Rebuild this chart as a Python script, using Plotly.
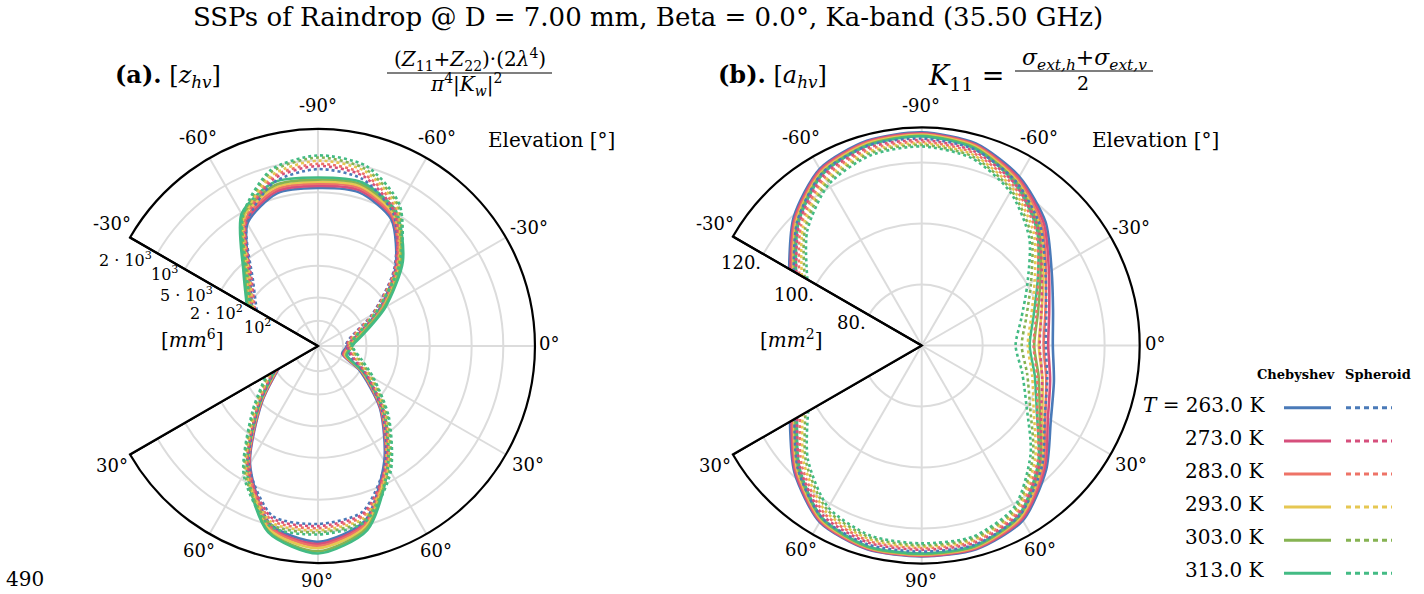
import plotly.graph_objects as go

W, H = 1424, 594
SERIF = "DejaVu Serif, Liberation Serif, serif"

TEMPS = ["263.0", "273.0", "283.0", "293.0", "303.0", "313.0"]
COLORS = ["#4a7ab8", "#d64f7c", "#ee7367", "#e6c752", "#86b352", "#43bb84"]

# ---- panel (a): z_hv in dB (10*log10 of mm^6) versus plotting angle ----
THETA_A = [-150, -135, -120, -105, -90, -75, -60, -45, -30, -15, -5, 5, 18,
           30, 45, 60, 75, 90, 105, 120, 135, 150]
ZHV_CHEB = [
    [19.6, 21.5, 25.8, 27.4, 27.4, 27.5, 26.3, 22.8, 19.0, 16.2, 15.3, 15.0, 14.8, 16.9, 20.7, 25.0, 29.6, 31.0, 29.9, 25.3, 19.9, 16.7],
    [19.7, 21.7, 26.0, 27.6, 27.6, 27.7, 26.5, 23.0, 19.2, 16.3, 15.4, 15.1, 14.9, 17.1, 20.8, 25.2, 29.8, 31.2, 30.1, 25.4, 20.0, 16.8],
    [19.8, 21.9, 26.2, 27.8, 27.8, 27.9, 26.6, 23.2, 19.3, 16.5, 15.6, 15.2, 15.0, 17.2, 20.9, 25.3, 29.9, 31.4, 30.2, 25.5, 20.1, 16.9],
    [20.0, 22.0, 26.5, 28.0, 28.0, 28.1, 26.8, 23.4, 19.5, 16.6, 15.7, 15.3, 15.1, 17.3, 21.1, 25.4, 30.1, 31.6, 30.4, 25.7, 20.2, 17.0],
    [20.1, 22.2, 26.7, 28.2, 28.2, 28.3, 27.0, 23.6, 19.6, 16.7, 15.8, 15.4, 15.2, 17.4, 21.2, 25.6, 30.3, 31.9, 30.6, 25.8, 20.3, 17.1],
    [20.2, 22.4, 26.9, 28.5, 28.4, 28.5, 27.2, 23.8, 19.8, 16.9, 15.9, 15.5, 15.3, 17.5, 21.3, 25.7, 30.5, 32.1, 30.7, 25.9, 20.4, 17.2],
]
ZHV_SPH = [
    [19.1, 21.1, 25.9, 28.5, 29.2, 28.8, 26.8, 22.6, 18.3, 15.6, 15.1, 15.2, 15.7, 17.5, 21.0, 25.2, 28.7, 29.3, 29.1, 25.5, 20.3, 17.1],
    [19.3, 21.3, 26.1, 28.8, 29.5, 29.1, 27.0, 22.7, 18.4, 15.7, 15.2, 15.3, 15.9, 17.7, 21.2, 25.4, 28.9, 29.5, 29.3, 25.7, 20.5, 17.3],
    [19.4, 21.5, 26.2, 29.0, 29.7, 29.3, 27.3, 22.9, 18.5, 15.8, 15.3, 15.5, 16.1, 17.9, 21.4, 25.6, 29.1, 29.7, 29.5, 25.9, 20.6, 17.5],
    [19.5, 21.6, 26.4, 29.2, 30.0, 29.6, 27.5, 23.1, 18.6, 16.0, 15.4, 15.6, 16.3, 18.1, 21.5, 25.8, 29.3, 29.9, 29.7, 26.1, 20.8, 17.7],
    [19.7, 21.8, 26.6, 29.5, 30.3, 29.8, 27.7, 23.2, 18.7, 16.1, 15.5, 15.7, 16.5, 18.3, 21.7, 26.0, 29.5, 30.1, 29.9, 26.3, 21.0, 17.9],
    [19.8, 22.0, 26.7, 29.7, 30.5, 30.1, 27.9, 23.4, 18.8, 16.2, 15.6, 15.8, 16.8, 18.5, 21.9, 26.2, 29.7, 30.3, 30.1, 26.5, 21.2, 18.1],
]
ZHV_RANGE = [12.38, 33.01]
ZHV_TICKVALS = [14.77, 16.99, 20.0, 23.01, 26.99, 30.0, 33.01]
ZHV_TICKTEXT = ["2 · 10<sup>3</sup>", "10<sup>3</sup>", "5 · 10<sup>3</sup>",
                "2 · 10<sup>2</sup>", "10<sup>2</sup>"]

# ---- panel (b): a_hv (K11) in mm^2 versus plotting angle ----
THETA_B = [-150, -135, -120, -105, -90, -75, -60, -45, -30, -15, 0, 15, 30,
           45, 60, 75, 90, 105, 120, 135, 150]
AHV_CHEB = [
    [110.2, 119.4, 126.9, 129.5, 129.9, 128.6, 124.0, 117.4, 109.2, 104.6, 103.0, 104.9, 108.9, 117.7, 126.3, 129.2, 129.2, 129.2, 126.9, 119.0, 109.9],
    [109.7, 118.9, 126.5, 129.2, 129.6, 128.2, 123.4, 116.6, 108.2, 103.3, 101.5, 103.6, 107.8, 117.0, 125.8, 128.9, 129.0, 129.0, 126.6, 118.6, 109.3],
    [109.1, 118.5, 126.1, 128.9, 129.3, 127.9, 122.9, 115.8, 107.1, 102.0, 100.0, 102.3, 106.8, 116.3, 125.3, 128.7, 128.8, 128.8, 126.3, 118.1, 108.8],
    [108.6, 118.0, 125.7, 128.6, 129.1, 127.6, 122.4, 115.0, 106.1, 100.7, 98.4, 101.0, 105.7, 115.6, 124.9, 128.4, 128.6, 128.6, 125.9, 117.7, 108.3],
    [108.1, 117.5, 125.3, 128.2, 128.8, 127.2, 121.9, 114.2, 105.0, 99.4, 96.9, 99.7, 104.7, 114.8, 124.4, 128.2, 128.4, 128.4, 125.6, 117.2, 107.8],
    [107.6, 117.1, 124.9, 127.9, 128.6, 126.9, 121.3, 113.5, 104.0, 98.0, 95.4, 98.4, 103.6, 114.1, 124.0, 127.9, 128.2, 128.2, 125.3, 116.7, 107.2],
]
AHV_SPH = [
    [108.5, 117.7, 125.3, 127.9, 127.9, 126.6, 122.0, 115.1, 106.9, 102.3, 100.7, 102.6, 106.6, 115.8, 124.3, 127.6, 127.6, 127.6, 125.3, 117.4, 108.2],
    [107.5, 116.8, 124.4, 127.2, 127.4, 126.0, 121.2, 114.1, 105.5, 100.6, 98.7, 100.9, 105.2, 114.7, 123.6, 127.0, 127.0, 127.0, 124.5, 116.5, 107.2],
    [106.4, 115.9, 123.6, 126.6, 126.8, 125.4, 120.4, 113.0, 104.1, 98.9, 96.7, 99.2, 103.8, 113.7, 123.0, 126.5, 126.5, 126.4, 123.7, 115.6, 106.1],
    [105.4, 115.0, 122.7, 125.9, 126.3, 124.8, 119.6, 112.0, 102.8, 97.2, 94.8, 97.5, 102.4, 112.6, 122.3, 126.0, 126.0, 125.8, 122.9, 114.6, 105.1],
    [104.3, 114.1, 121.9, 125.3, 125.8, 124.2, 118.8, 110.9, 101.4, 95.5, 92.8, 95.8, 101.1, 111.6, 121.7, 125.5, 125.5, 125.2, 122.1, 113.7, 104.0],
    [103.3, 113.1, 121.0, 124.6, 125.3, 123.6, 118.1, 109.9, 100.0, 93.8, 90.8, 94.1, 99.7, 110.5, 121.0, 124.9, 124.9, 124.6, 121.3, 112.8, 103.0],
]
AHV_RANGE = [60.0, 131.5]
AHV_TICKVALS = [80, 100, 120]
AHV_TICKTEXT = ["120.", "100.", "80."]

# angular grid: plotting angle -> elevation label
ANG_TICKVALS = [-150, -120, -90, -60, -30, 0, 30, 60, 90, 120, 150]
ANG_TICKTEXT = ["-30°", "-60°", "-90°", "-60°", "-30°", "0°", "30°", "60°", "90°", "60°", "30°"]

GRID = "#dcdcdc"

fig = go.Figure()


def add_panel(subplot, theta, cheb, sph, rng):
    for i in range(len(TEMPS)):
        fig.add_trace(go.Scatterpolar(
            r=cheb[i], theta=theta, mode="lines", subplot=subplot, showlegend=False,
            line=dict(color=COLORS[i], width=2.6, shape="spline", smoothing=0.75),
            hoverinfo="skip"))
    for i in range(len(TEMPS)):
        fig.add_trace(go.Scatterpolar(
            r=sph[i], theta=theta, mode="lines", subplot=subplot, showlegend=False,
            line=dict(color=COLORS[i], width=2.6, dash="3px,3px", shape="spline", smoothing=0.75),
            hoverinfo="skip"))
    # lower straight edge of the sector frame
    fig.add_trace(go.Scatterpolar(
        r=rng, theta=[150, 150], mode="lines", subplot=subplot, showlegend=False,
        line=dict(color="black", width=2.2), hoverinfo="skip"))


add_panel("polar", THETA_A, ZHV_CHEB, ZHV_SPH, ZHV_RANGE)
add_panel("polar2", THETA_B, AHV_CHEB, AHV_SPH, AHV_RANGE)


def polar_layout(dom_x, dom_y, rng, tickvals):
    return dict(
        domain=dict(x=dom_x, y=dom_y),
        sector=[-150, 150],
        bgcolor="white",
        angularaxis=dict(
            direction="clockwise", rotation=0,
            tickmode="array", tickvals=ANG_TICKVALS, showticklabels=False,
            ticks="", showline=True, linecolor="black", linewidth=2.2,
            showgrid=True, gridcolor=GRID, gridwidth=1.5,
        ),
        radialaxis=dict(
            range=rng, angle=150,
            tickmode="array", tickvals=tickvals, showticklabels=False,
            ticks="", showline=True, linecolor="black", linewidth=2.2,
            showgrid=True, gridcolor=GRID, gridwidth=1.5,
        ),
    )


def px(x):
    return x / W


def py(y):
    return 1 - y / H


annotations = []
shapes = []


def text(x, y, s, size, xanchor="center", yanchor="middle", family=SERIF):
    annotations.append(dict(
        x=px(x), y=py(y), xref="paper", yref="paper", text=s, showarrow=False,
        xanchor=xanchor, yanchor=yanchor, font=dict(family=family, size=size, color="black")))


def hline(x0, x1, y, color="black", width=1.2, dash="solid"):
    shapes.append(dict(type="line", xref="paper", yref="paper",
                       x0=px(x0), x1=px(x1), y0=py(y), y1=py(y),
                       line=dict(color=color, width=width, dash=dash)))


# angular labels around each panel
ANG_LABEL_POS_A = [(112, 223), (198, 137), (318, 106), (437, 137), (529, 227), (549, 343),
                   (528, 464), (436, 550), (317, 580), (199, 550), (112, 465)]
ANG_LABEL_POS_B = [(715, 223), (801, 137), (921, 106), (1039, 137), (1131, 227), (1155, 343),
                   (1131, 464), (1040, 549), (921, 580), (801, 549), (715, 465)]
for (xa, ya), (xb, yb), lab in zip(ANG_LABEL_POS_A, ANG_LABEL_POS_B, ANG_TICKTEXT):
    text(xa, ya, lab, 18)
    text(xb, yb, lab, 18)

# radial labels along the upper sector edge
ZHV_LABEL_POS = [(125, 259), (164, 273), (186, 294), (216, 312), (257, 326)]
for (x, y), lab in zip(ZHV_LABEL_POS, ZHV_TICKTEXT):
    text(x, y, lab, 16)
AHV_LABEL_POS = [(741, 262), (794, 294), (851, 322)]
for (x, y), lab in zip(AHV_LABEL_POS, AHV_TICKTEXT):
    text(x, y, lab, 18)
text(192, 339, "[<i>mm</i><sup>6</sup>]", 20)
text(791, 339, "[<i>mm</i><sup>2</sup>]", 20)

# panel headings
text(113, 76, "<b>(a).</b> [<i>z</i><sub><i>hv</i></sub>]", 24, xanchor="left")
text(470, 60, "(<i>Z</i><sub>11</sub>+<i>Z</i><sub>22</sub>)·(2<i>λ</i><sup>4</sup>)", 20)
hline(387, 552, 73)
text(466, 84, "<i>π</i><sup>4</sup>|<i>K</i><sub><i>w</i></sub>|<sup>2</sup>", 20)

text(716, 76, "<b>(b).</b> [<i>a</i><sub><i>hv</i></sub>]", 24, xanchor="left")
text(966, 78, "<i>K</i><sub>11</sub> =", 27)
text(1084, 60, "<i>σ</i><sub><i>ext,h</i></sub>+<i>σ</i><sub><i>ext,v</i></sub>", 22)
hline(1015, 1153, 71)
text(1083, 83, "2", 19)

text(551, 140, "Elevation [°]", 20)
text(1155, 140, "Elevation [°]", 20)
text(25, 579, "490", 20)

# legend
LEG_Y = [407.7, 441.0, 474.0, 507.0, 540.3, 573.3]
text(1296, 374, "<b>Chebyshev</b>", 13)
text(1378, 374, "<b>Spheroid</b>", 13)
for i, t in enumerate(TEMPS):
    label = (f"<i>T</i> = {t} K" if i == 0 else f"{t} K")
    text(1267, LEG_Y[i] - 3, label, 20, xanchor="right")
    hline(1284, 1331, LEG_Y[i], color=COLORS[i], width=3)
    hline(1346, 1392, LEG_Y[i], color=COLORS[i], width=3, dash="5px,4px")

fig.update_layout(
    width=W, height=H, autosize=False,
    margin=dict(l=0, r=0, t=0, b=0),
    paper_bgcolor="white", plot_bgcolor="white",
    title=dict(text="SSPs of Raindrop @ D = 7.00 mm, Beta = 0.0°, Ka-band (35.50 GHz)",
               x=648 / W, xanchor="center", y=py(17), yanchor="middle",
               font=dict(family=SERIF, size=26, color="black")),
    polar=polar_layout([0.09129, 0.37570], [0.05219, 0.78283], ZHV_RANGE, ZHV_TICKVALS),
    polar2=polar_layout([0.51468, 0.80035], [0.05135, 0.78535], AHV_RANGE, AHV_TICKVALS),
    annotations=annotations,
    shapes=shapes,
    showlegend=False,
)

fig.write_html("out.html")
